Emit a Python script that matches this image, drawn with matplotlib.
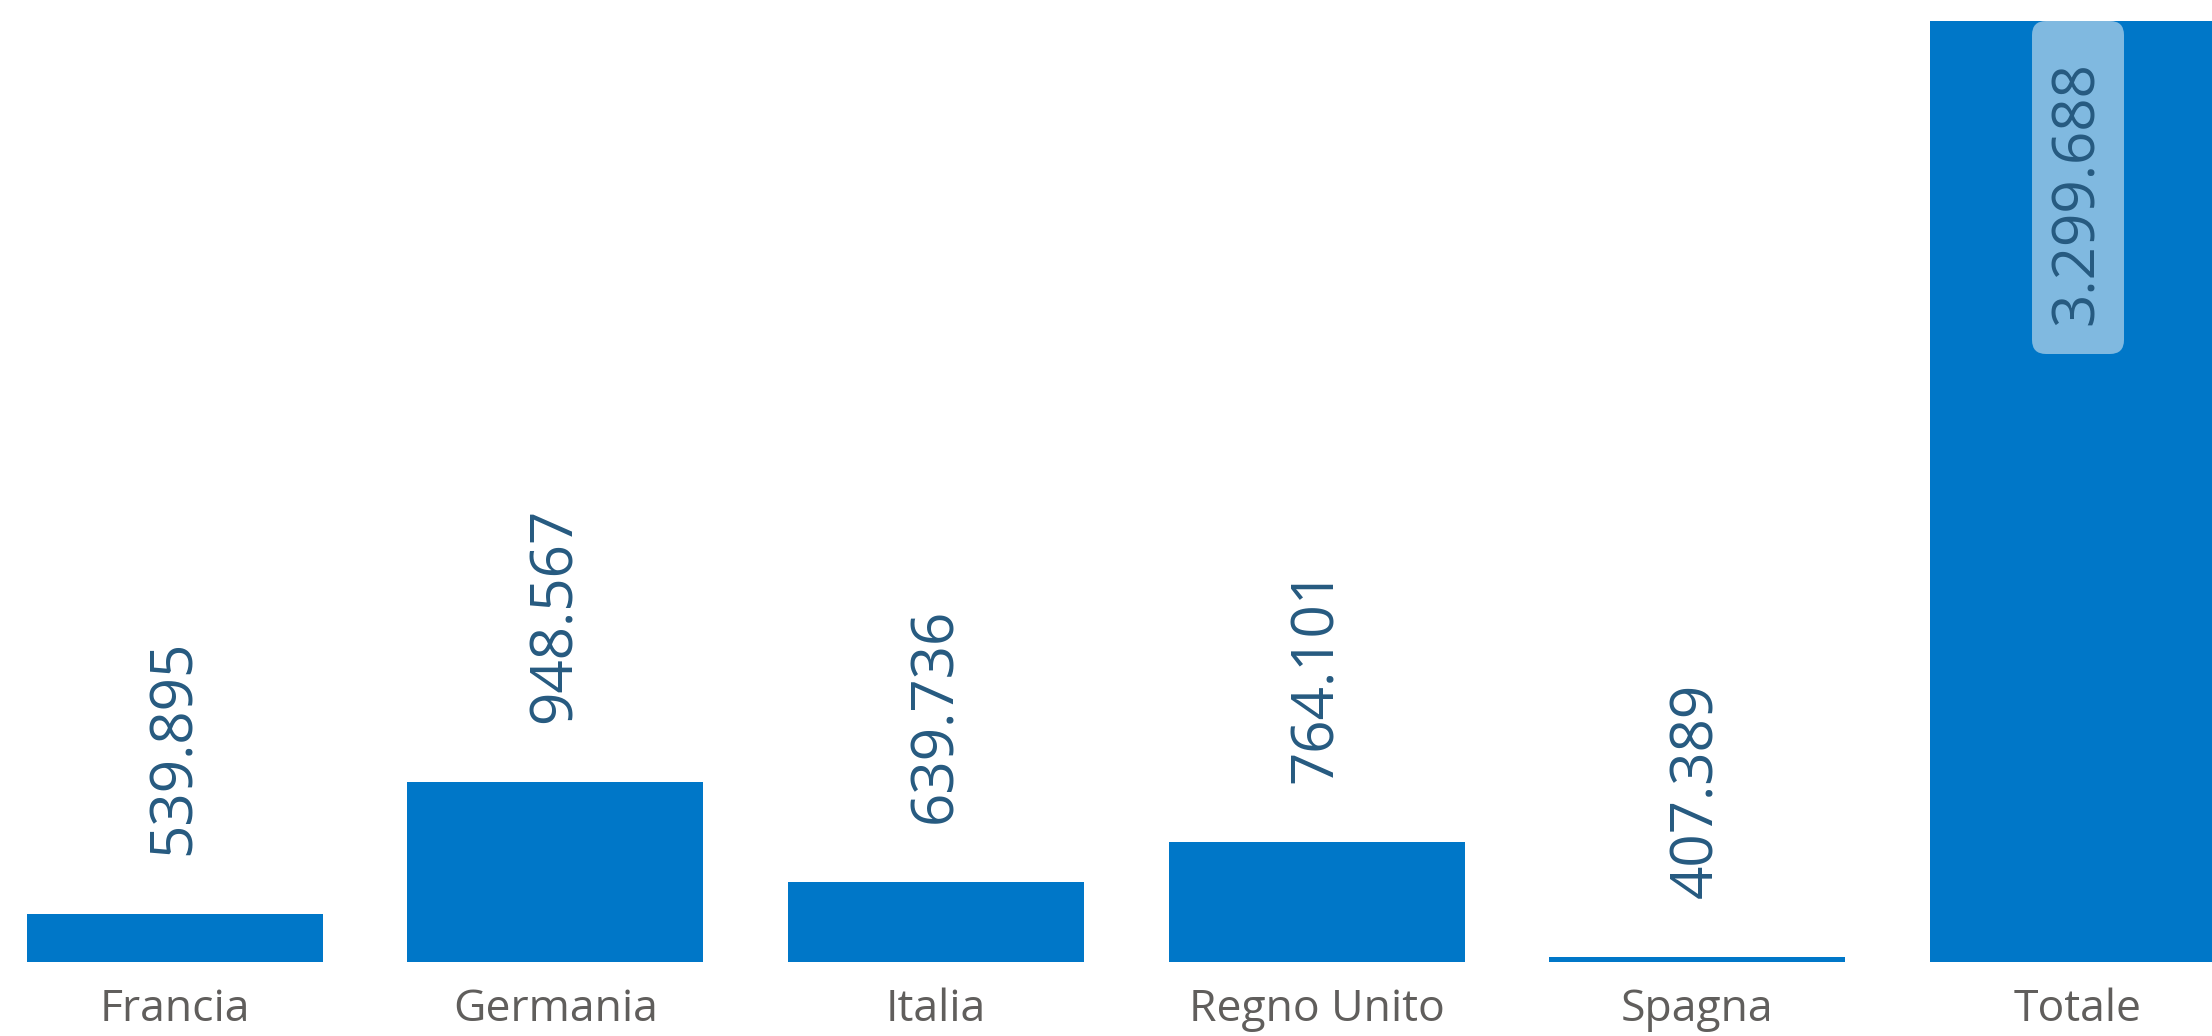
import matplotlib
matplotlib.use("Agg")
import matplotlib.pyplot as plt
from matplotlib.patches import FancyBboxPatch
from matplotlib.transforms import IdentityTransform

categories = ["Francia", "Germania", "Italia", "Regno Unito", "Spagna", "Totale"]
values = [539895, 948567, 639736, 764101, 407389, 3299688]
labels = ["539.895", "948.567", "639.736", "764.101", "407.389", "3.299.688"]

BAR_COLOR = "#0077C8"
VALUE_COLOR = "#265A80"
CAT_COLOR = "#605E5C"
FONT = ["Open Sans", "DejaVu Sans"]

W, H, DPI = 2212, 1036, 100
fig = plt.figure(figsize=(W / DPI, H / DPI), dpi=DPI)
base_px = 962
ax = fig.add_axes([0, (H - base_px) / H, 1, base_px / H])

y_min = 392000
px_per_unit = (base_px - 21) / (values[-1] - y_min)
y_max = y_min + base_px / px_per_unit

x = list(range(len(categories)))
ax.bar(x, [v - y_min for v in values], bottom=y_min, width=0.777,
       color=BAR_COLOR, linewidth=0)
ax.set_xlim(-0.459, 5.352)
ax.set_ylim(y_min, y_max)
ax.axis("off")

for xi, v, lab in zip(x[:-1], values[:-1], labels[:-1]):
    ax.annotate(lab, (xi, v), xytext=(0, 59 * 72 / DPI), textcoords="offset points",
                rotation=90, ha="center", va="bottom", fontsize=42,
                color=VALUE_COLOR, family=FONT)

# total: label inside the bar end on a translucent rounded box (pixel units)
xt, vt = x[-1], values[-1]
cx, top = ax.transData.transform((xt, vt))
box_w, box_h = 92, 333
box = FancyBboxPatch((cx - box_w / 2, top - box_h), box_w, box_h,
                     boxstyle="round,pad=0,rounding_size=14",
                     transform=IdentityTransform(),
                     facecolor="#80B9E0", edgecolor="none", zorder=3)
ax.add_artist(box)
ax.annotate(labels[-1], (xt, vt), xytext=(0, -40 * 72 / DPI), textcoords="offset points",
            rotation=90, ha="center", va="top", fontsize=42,
            color=VALUE_COLOR, family=FONT, zorder=4)

for xi, c in zip(x, categories):
    fig.text(ax.transData.transform((xi, 0))[0] / W, 1 - 1010 / H, c,
             ha="center", va="center", fontsize=32, color=CAT_COLOR, family=FONT)

fig.savefig("out.png", dpi=DPI, facecolor="white")
